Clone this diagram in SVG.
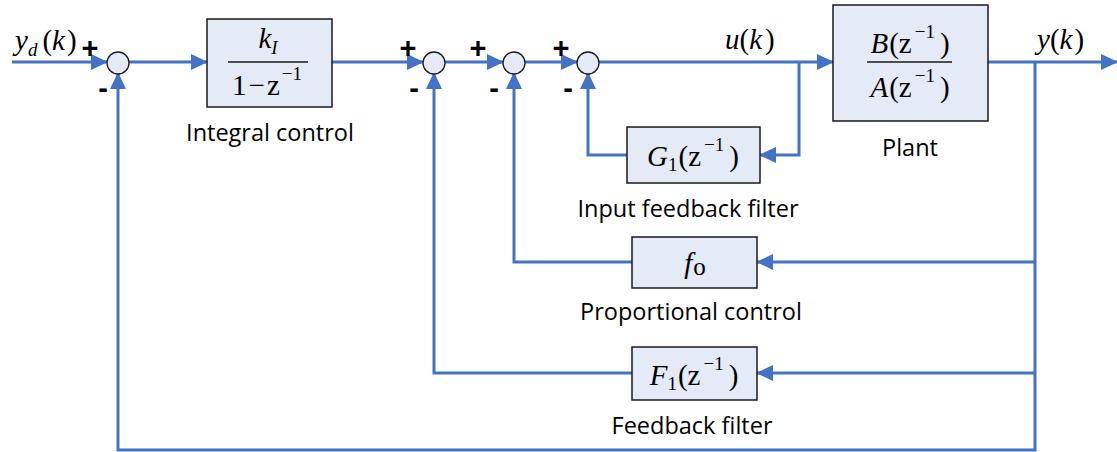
<svg xmlns="http://www.w3.org/2000/svg" width="1117" height="452" viewBox="0 0 1117 452">
<defs>
<marker id="ah" markerUnits="userSpaceOnUse" markerWidth="17" markerHeight="16" refX="16" refY="8" orient="auto">
<path d="M0,0 L17,8 L0,16 Z" fill="#4472C4"/>
</marker>
<style>
.w{fill:none;stroke:#4472C4;stroke-width:3;marker-end:url(#ah)}
.box{fill:#E4EAF6;stroke:#1a1a1a;stroke-width:1.5}
.sum{fill:#E4EAF6;stroke:#1a1a1a;stroke-width:1.3}
.m{font-family:"Liberation Serif","Times New Roman",serif;font-size:29px;fill:#000}
.i{font-style:italic}
.s{font-size:19px}
.lbl{font-family:"Open Sans","Liberation Sans",sans-serif;font-size:23.5px;fill:#000;text-anchor:middle}
.sg{font-family:"Liberation Sans",Arial,sans-serif;font-size:29px;font-weight:bold;fill:#000;text-anchor:middle}
.fl{stroke:#1a1a1a;stroke-width:1.3}
</style>
</defs>
<rect width="1117" height="452" fill="#fff"/>

<g id="connectors">
<path class="w" d="M12,62 H107"/>
<path class="w" d="M129,62 H207"/>
<path class="w" d="M332,62 H423"/>
<path class="w" d="M445,62 H503"/>
<path class="w" d="M525,62 H577"/>
<path class="w" d="M599,62 H833"/>
<path class="w" d="M988,62 H1117"/>
<path class="w" d="M799,62 V155 H760"/>
<path class="w" d="M627,155 H588 V73"/>
<path class="w" d="M1035,62 V450 H118 V73"/>
<path class="w" d="M1035,262 H757"/>
<path class="w" d="M1035,373 H757"/>
<path class="w" d="M632,262 H514 V73"/>
<path class="w" d="M632,373 H434 V73"/>
</g>

<g id="input-label">
<text class="m" x="15" y="50"><tspan class="i">y</tspan><tspan class="i s" dy="6">d</tspan><tspan dx="5" dy="-6">(</tspan><tspan class="i">k</tspan><tspan dx="2">)</tspan></text>
</g>

<g id="sum1">
<circle class="sum" cx="118" cy="63" r="11"/>
<text class="sg" x="90" y="58">+</text>
<text class="sg" x="103" y="98">-</text>
</g>

<g id="integral">
<rect class="box" x="207" y="19" width="125" height="88"/>
<line class="fl" x1="228" y1="62" x2="308" y2="62"/>
<text class="m" x="268" y="48" text-anchor="middle"><tspan class="i">k</tspan><tspan class="i s" dy="6">I</tspan></text>
<text class="m" x="267" y="95" text-anchor="middle">1<tspan dx="2">−</tspan><tspan dx="2">z</tspan><tspan class="s" dx="2" dy="-15">−1</tspan></text>
<text class="lbl" x="270" y="141">Integral control</text>
</g>

<g id="sum2">
<circle class="sum" cx="434" cy="63" r="11"/>
<text class="sg" x="408" y="58">+</text>
<text class="sg" x="414" y="98">-</text>
</g>

<g id="sum3">
<circle class="sum" cx="514" cy="63" r="11"/>
<text class="sg" x="478" y="58">+</text>
<text class="sg" x="494" y="98">-</text>
</g>

<g id="sum4">
<circle class="sum" cx="588" cy="63" r="11"/>
<text class="sg" x="561" y="58">+</text>
<text class="sg" x="568" y="98">-</text>
</g>

<g id="u-label">
<text class="m" x="725" y="49"><tspan class="i">u</tspan>(<tspan class="i">k</tspan><tspan dx="3">)</tspan></text>
</g>

<g id="plant">
<rect class="box" x="833" y="5" width="155" height="116"/>
<line class="fl" x1="867" y1="62" x2="952" y2="62"/>
<text class="m" x="910" y="53" text-anchor="middle"><tspan class="i">B</tspan><tspan dx="1">(z</tspan><tspan class="s" dx="3" dy="-15">−1</tspan><tspan dx="5" dy="15">)</tspan></text>
<text class="m" x="910" y="97" text-anchor="middle"><tspan class="i">A</tspan><tspan dx="1">(z</tspan><tspan class="s" dx="3" dy="-15">−1</tspan><tspan dx="5" dy="15">)</tspan></text>
<text class="lbl" x="910" y="156">Plant</text>
</g>

<g id="y-label">
<text class="m" x="1037" y="49"><tspan class="i">y</tspan>(<tspan class="i">k</tspan><tspan dx="2">)</tspan></text>
</g>

<g id="input-feedback-filter">
<rect class="box" x="627" y="127" width="133" height="56"/>
<text class="m" x="693" y="166" text-anchor="middle"><tspan class="i">G</tspan><tspan class="s" dy="5">1</tspan><tspan dx="1" dy="-5">(z</tspan><tspan class="s" dx="3" dy="-15">−1</tspan><tspan dx="5" dy="15">)</tspan></text>
<text class="lbl" x="688" y="217">Input feedback filter</text>
</g>

<g id="proportional-control">
<rect class="box" x="632" y="237" width="125" height="51"/>
<text class="m" x="695" y="273" text-anchor="middle"><tspan class="i">f</tspan><tspan dx="1" dy="2" font-size="25">o</tspan></text>
<text class="lbl" x="691" y="320">Proportional control</text>
</g>

<g id="feedback-filter">
<rect class="box" x="632" y="347" width="125" height="53"/>
<text class="m" x="694" y="385" text-anchor="middle"><tspan class="i">F</tspan><tspan class="s" dy="5">1</tspan><tspan dx="1" dy="-5">(z</tspan><tspan class="s" dx="3" dy="-15">−1</tspan><tspan dx="5" dy="15">)</tspan></text>
<text class="lbl" x="692" y="434">Feedback filter</text>
</g>
</svg>
